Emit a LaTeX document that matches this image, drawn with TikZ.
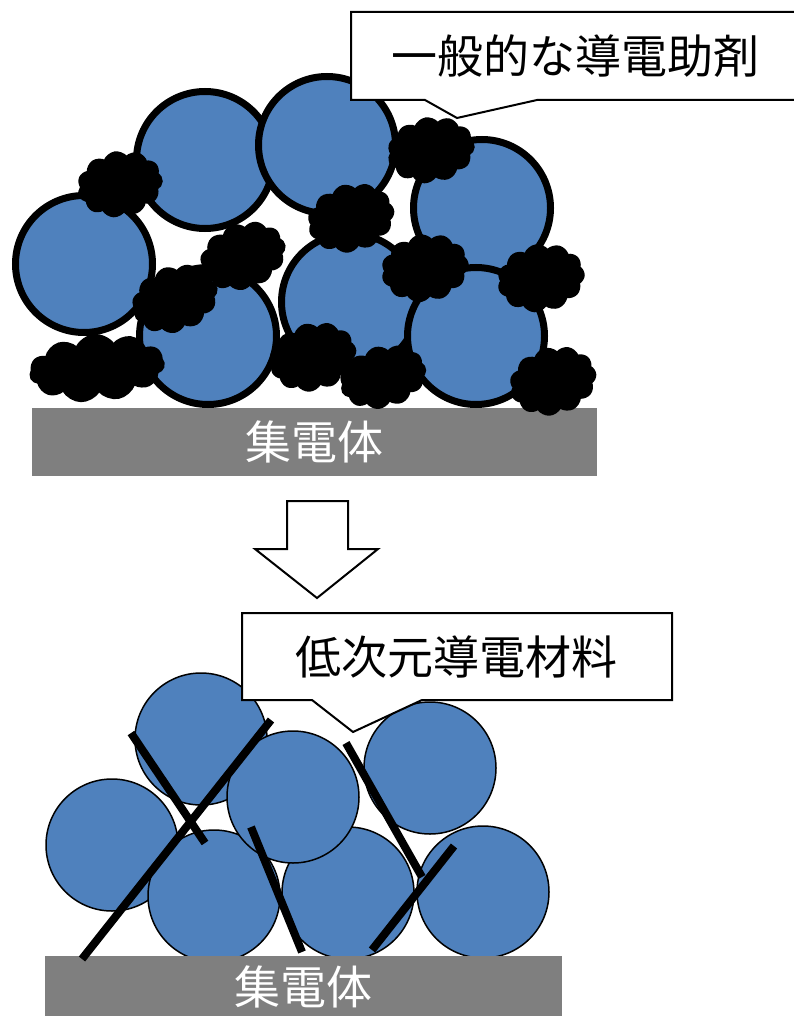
\documentclass[tikz,border=0pt]{standalone}
\usepackage{fontspec}
\newfontfamily\jpfont{Noto Sans CJK JP}
\usetikzlibrary{shapes.symbols}
\definecolor{particle}{HTML}{4F81BD}
\definecolor{collector}{HTML}{7F7F7F}
\tikzset{
  thickparticle/.style={circle, draw=black, line width=7pt, fill=particle,
    minimum size=137pt, inner sep=0pt},
  thinparticle/.style={circle, draw=black, line width=1.5pt, fill=particle,
    minimum size=132pt, inner sep=0pt},
  carbonblob/.style={cloud, cloud puffs=11, cloud puff arc=120, fill=black,
    draw=black, line width=2pt, inner sep=0pt},
  rod/.style={line width=8pt, line cap=butt, draw=black},
  callout/.style={draw=black, line width=2pt, fill=white, line join=miter},
  collectorbar/.style={fill=collector, draw=none},
  barlabel/.style={text=white, font=\jpfont\fontsize{46}{50}\selectfont, inner sep=0pt},
  calloutlabel/.style={text=black, font=\jpfont\fontsize{46}{50}\selectfont, inner sep=0pt},
  downarrow/.style={draw=black, line width=2pt, fill=white, line join=miter},
}
\begin{document}
\begin{tikzpicture}[x=1pt, y=-1pt]
  \useasboundingbox (0,0) rectangle (794,1016);
  \clip (0,0) rectangle (794,1016);

  % ---------- upper layer: particles with ordinary conductive additive ----------
  \node[collectorbar, minimum width=565pt, minimum height=68pt, inner sep=0pt, anchor=north west] (bar1) at (32,408) {};
  \node[barlabel] (bar1label) at (314,442) {集電体};

  \node[thickparticle] (pa) at (205,160) {};
  \node[thickparticle] (pb) at (327,145) {};
  \node[thickparticle] (pc) at (482,208) {};
  \node[thickparticle] (pd) at (84,264) {};
  \node[thickparticle] (pe) at (208,336) {};
  \node[thickparticle] (pf) at (350,302) {};
  \node[thickparticle] (pg) at (476,336) {};

  \node[carbonblob, minimum width=84pt, minimum height=64pt, rotate=10] (b1) at (120,184) {};
  \node[carbonblob, minimum width=86pt, minimum height=64pt, rotate=10] (b2) at (431,150) {};
  \node[carbonblob, minimum width=86pt, minimum height=66pt, rotate=15] (b3) at (351,218) {};
  \node[carbonblob, minimum width=86pt, minimum height=64pt, rotate=20] (b4) at (243,256) {};
  \node[carbonblob, minimum width=86pt, minimum height=64pt, rotate=20] (b5) at (175,299) {};
  \node[carbonblob, minimum width=86pt, minimum height=66pt, rotate=10] (b6) at (425,268) {};
  \node[carbonblob, minimum width=86pt, minimum height=66pt, rotate=10] (b7) at (541,278) {};
  \node[carbonblob, minimum width=134pt, minimum height=66pt, rotate=5] (b8) at (97,368) {};
  \node[carbonblob, minimum width=86pt, minimum height=66pt, rotate=15] (b9) at (313,357) {};
  \node[carbonblob, minimum width=86pt, minimum height=60pt, rotate=15] (b10) at (383,377) {};
  \node[carbonblob, minimum width=86pt, minimum height=66pt, rotate=15] (b11) at (553,381) {};

  \draw[callout] (351,12) -- (800,12) -- (800,100) -- (537,100) -- (457,118)
    -- (425,100) -- (351,100) -- cycle;
  \node[calloutlabel] (label1) at (575,56) {一般的な導電助剤};

  % ---------- transition arrow ----------
  \draw[downarrow] (287,501) -- (348,501) -- (348,549) -- (378,549) -- (317,598)
    -- (255,549) -- (287,549) -- cycle;

  % ---------- lower layer: particles with low-dimensional conductor ----------
  \node[thinparticle] (c1) at (201,739) {};
  \node[thinparticle] (c2) at (112,845) {};
  \node[thinparticle] (c3) at (214,896) {};
  \node[thinparticle] (c6) at (348,893) {};
  \node[thinparticle] (c7) at (483,892) {};
  \node[thinparticle] (c5) at (430,768) {};
  \node[thinparticle] (c4) at (293,797) {};

  \node[collectorbar, minimum width=517pt, minimum height=62pt, inner sep=0pt, anchor=north west] (bar2) at (45,956) {};
  \node[barlabel] (bar2label) at (303,987) {集電体};

  \coordinate (r1a) at (131,733);  \coordinate (r1b) at (205,843);
  \coordinate (r2a) at (82,959);   \coordinate (r2b) at (271,720);
  \coordinate (r3a) at (251,827);  \coordinate (r3b) at (302,952);
  \coordinate (r4a) at (346,743);  \coordinate (r4b) at (422,877);
  \coordinate (r5a) at (454,846);  \coordinate (r5b) at (372,950);
  \draw[rod] (r1a) -- (r1b);
  \draw[rod] (r2a) -- (r2b);
  \draw[rod] (r3a) -- (r3b);
  \draw[rod] (r4a) -- (r4b);
  \draw[rod] (r5a) -- (r5b);

  \draw[callout] (242,613) -- (672,613) -- (672,700) -- (422,700) -- (353,732)
    -- (312,700) -- (242,700) -- cycle;
  \node[calloutlabel] (label2) at (456,657) {低次元導電材料};
\end{tikzpicture}
\end{document}
